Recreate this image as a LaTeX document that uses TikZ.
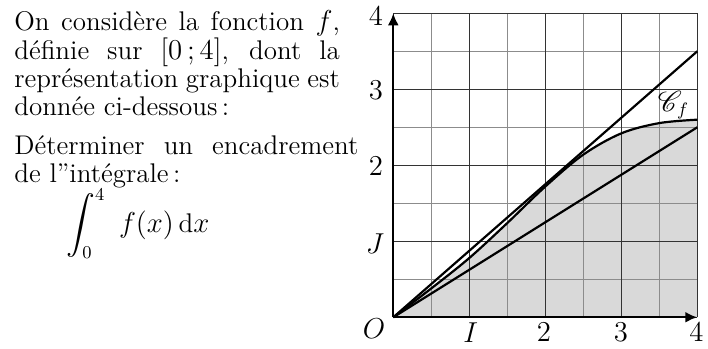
\documentclass[tikz,border=0pt]{standalone}
\usepackage{amsmath}
\usepackage{fontspec}
\usepackage{mathrsfs}
\usetikzlibrary{arrows.meta}
\begin{document}
\begin{tikzpicture}[x=38pt,y=38pt,
  every node/.style={font=\fontsize{13.5}{14.25}\selectfont, inner sep=0pt},
  minorgrid/.style={black!45, line width=0.5pt},
  majorgrid/.style={black!80, line width=0.6pt},
  curvestyle/.style={line width=1.1pt, black},
  axisstyle/.style={line width=1.1pt, -{Latex[length=6pt,width=5.5pt]}},
  shadestyle/.style={fill=black!15},
  textline/.style={anchor=base west}]
\useasboundingbox (-5.175,-0.417) rectangle (4.141,4.175);
% shaded area under the curve
\fill[shadestyle] plot[smooth, tension=0.55] coordinates {(0,0) (0.5,0.38) (1,0.78) (1.5,1.24) (2,1.72) (2.5,2.14) (3,2.42) (3.5,2.555) (4,2.6)} -- (4,0) -- cycle;
% grid
\draw[minorgrid] (0,0) grid[step=0.5] (4,4);
\draw[majorgrid] (0,0) grid[step=1] (4,4);
% lines and curve
\draw[curvestyle] (0,0) -- (4,3.5);
\draw[curvestyle] (0,0) -- (4,2.5);
\draw[curvestyle] plot[smooth, tension=0.55] coordinates {(0,0) (0.5,0.38) (1,0.78) (1.5,1.24) (2,1.72) (2.5,2.14) (3,2.42) (3.5,2.555) (4,2.6)};
% axes
\draw[axisstyle] (0,0) -- (4,0);
\draw[axisstyle] (0,0) -- (0,4);
% axis labels
\node (y4) at (-0.230,3.967) {$4$};
\node (y3) at (-0.230,2.984) {$3$};
\node (y2) at (-0.230,1.991) {$2$};
\node (yJ) at (-0.241,0.964) {$J$};
\node (xO) at (-0.254,-0.154) {$O$};
\node (xI) at (1.020,-0.207) {$I$};
\node (x2) at (1.983,-0.2) {$2$};
\node (x3) at (2.996,-0.2) {$3$};
\node (x4) at (3.99,-0.2) {$4$};
\node (cf) at (3.687,2.793) {$\mathscr{C}_f$};
% text
\node[textline] (l1) at (-4.991,3.767) {\makebox[162.75pt][s]{On considère la fonction $f$,}};
\node[textline] (l2) at (-4.991,3.392) {\makebox[162.75pt][s]{définie sur $[0\,;4]$, dont la}};
\node[textline] (l3) at (-4.991,3.024) {\makebox[162.75pt][s]{représentation graphique est}};
\node[textline] (l4) at (-4.991,2.649) {donnée ci-dessous\,:};
\node[textline] (l5) at (-4.991,2.142) {\makebox[172pt][s]{Déterminer un encadrement}};
\node[textline] (l6) at (-4.991,1.780) {de l''intégrale\,:};
\node[textline] (integ) at (-4.307,1.109) {$\displaystyle\int_0^4\ f(x)\,\mathrm{d}x$};
\end{tikzpicture}
\end{document}
